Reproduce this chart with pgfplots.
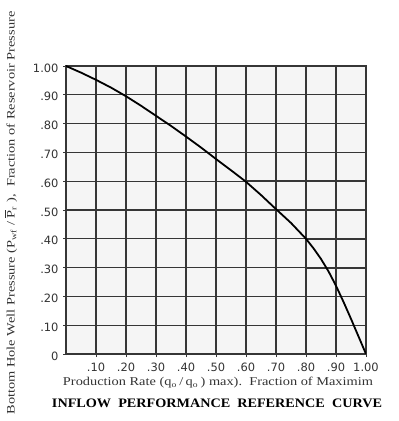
\documentclass[border=0pt]{standalone}
\usepackage{pgfplots}
\pgfplotsset{compat=1.18}
\usepackage{fontspec}
\setmainfont{Liberation Serif}
\newfontfamily\tickfont{DejaVu Sans}
\usepackage{graphicx}
\definecolor{gridc}{HTML}{363636}
\definecolor{txt}{HTML}{333333}
\begin{document}
\begin{tikzpicture}
\useasboundingbox (-66bp,-67bp) rectangle (333bp,354bp);
\begin{axis}[
  at={(0,0)}, anchor=south west,
  scale only axis, width=300bp, height=288bp,
  xmin=0, xmax=1, ymin=0, ymax=1,
  xtick={0.1,0.2,...,1.0},
  xticklabels={.10,.20,.30,.40,.50,.60,.70,.80,.90,1.00},
  ytick={0,0.1,...,1.0},
  yticklabels={0,.10,.20,.30,.40,.50,.60,.70,.80,.90,1.00},
  grid=major,
  grid style={gridc, line width=1.2bp},
  axis line style={gridc, line width=1.5bp},
  axis background/.style={fill=black!4},
  tick style={gridc, line width=0.8bp},
  major tick length=3bp,
  tick align=outside,
  xtick pos=bottom, ytick pos=left,
  tick label style={font=\tickfont\fontsize{11.5}{13}\selectfont, text=txt},
  xticklabel style={yshift=-2bp},
  yticklabel style={xshift=-1bp, yshift=-2bp},
]
% emphasized reference lines
\addplot[gridc, line width=1.9bp] coordinates {(0.6,0) (0.6,1)};
\addplot[gridc, line width=1.9bp] coordinates {(0.6,0.6) (1,0.6)};
\addplot[gridc, line width=1.9bp] coordinates {(0.6,0.5) (1,0.5)};
\addplot[gridc, line width=1.9bp] coordinates {(0.8,0.4) (1,0.4)};
\addplot[gridc, line width=1.9bp] coordinates {(0.8,0.3) (1,0.3)};
% IPR curve
\addplot[black, line width=1.8bp, line join=round] coordinates {
 (0,1.0) (0.05,0.977) (0.1,0.952) (0.15,0.925) (0.2,0.895) (0.25,0.862)
 (0.3,0.827) (0.35,0.792) (0.4,0.755) (0.45,0.717) (0.5,0.677)
 (0.55,0.638) (0.6,0.598) (0.65,0.552) (0.7,0.503) (0.75,0.455)
 (0.8,0.4) (0.825,0.367) (0.85,0.330) (0.875,0.287) (0.9,0.237)
 (0.925,0.181) (0.95,0.122) (0.975,0.061) (1.0,0.0)
};
\end{axis}
\node[text=txt, rotate=90] at (-55bp,141bp)
  {\resizebox{403bp}{\height}{\fontsize{11.5}{13}\selectfont Bottom Hole Well Pressure (P$_{\mathrm{wf}}$ / $\overline{\mathrm{P}}_{\mathrm{r}}$ ),\ \ Fraction of Reservoir Pressure}};
\node[text=txt] at (152bp,-29bp)
  {\resizebox{310bp}{\height}{\fontsize{12}{14}\selectfont Production Rate (q$_{\mathrm{o}}$\,/\,q$_{\mathrm{o}}$\,) max).\ \ Fraction of Maximim}};
\node[text=black] at (151bp,-49bp)
  {\resizebox{330bp}{\height}{\fontsize{13}{15}\selectfont\bfseries INFLOW\ \ PERFORMANCE\ \ REFERENCE\ \ CURVE}};
\end{tikzpicture}
\end{document}
